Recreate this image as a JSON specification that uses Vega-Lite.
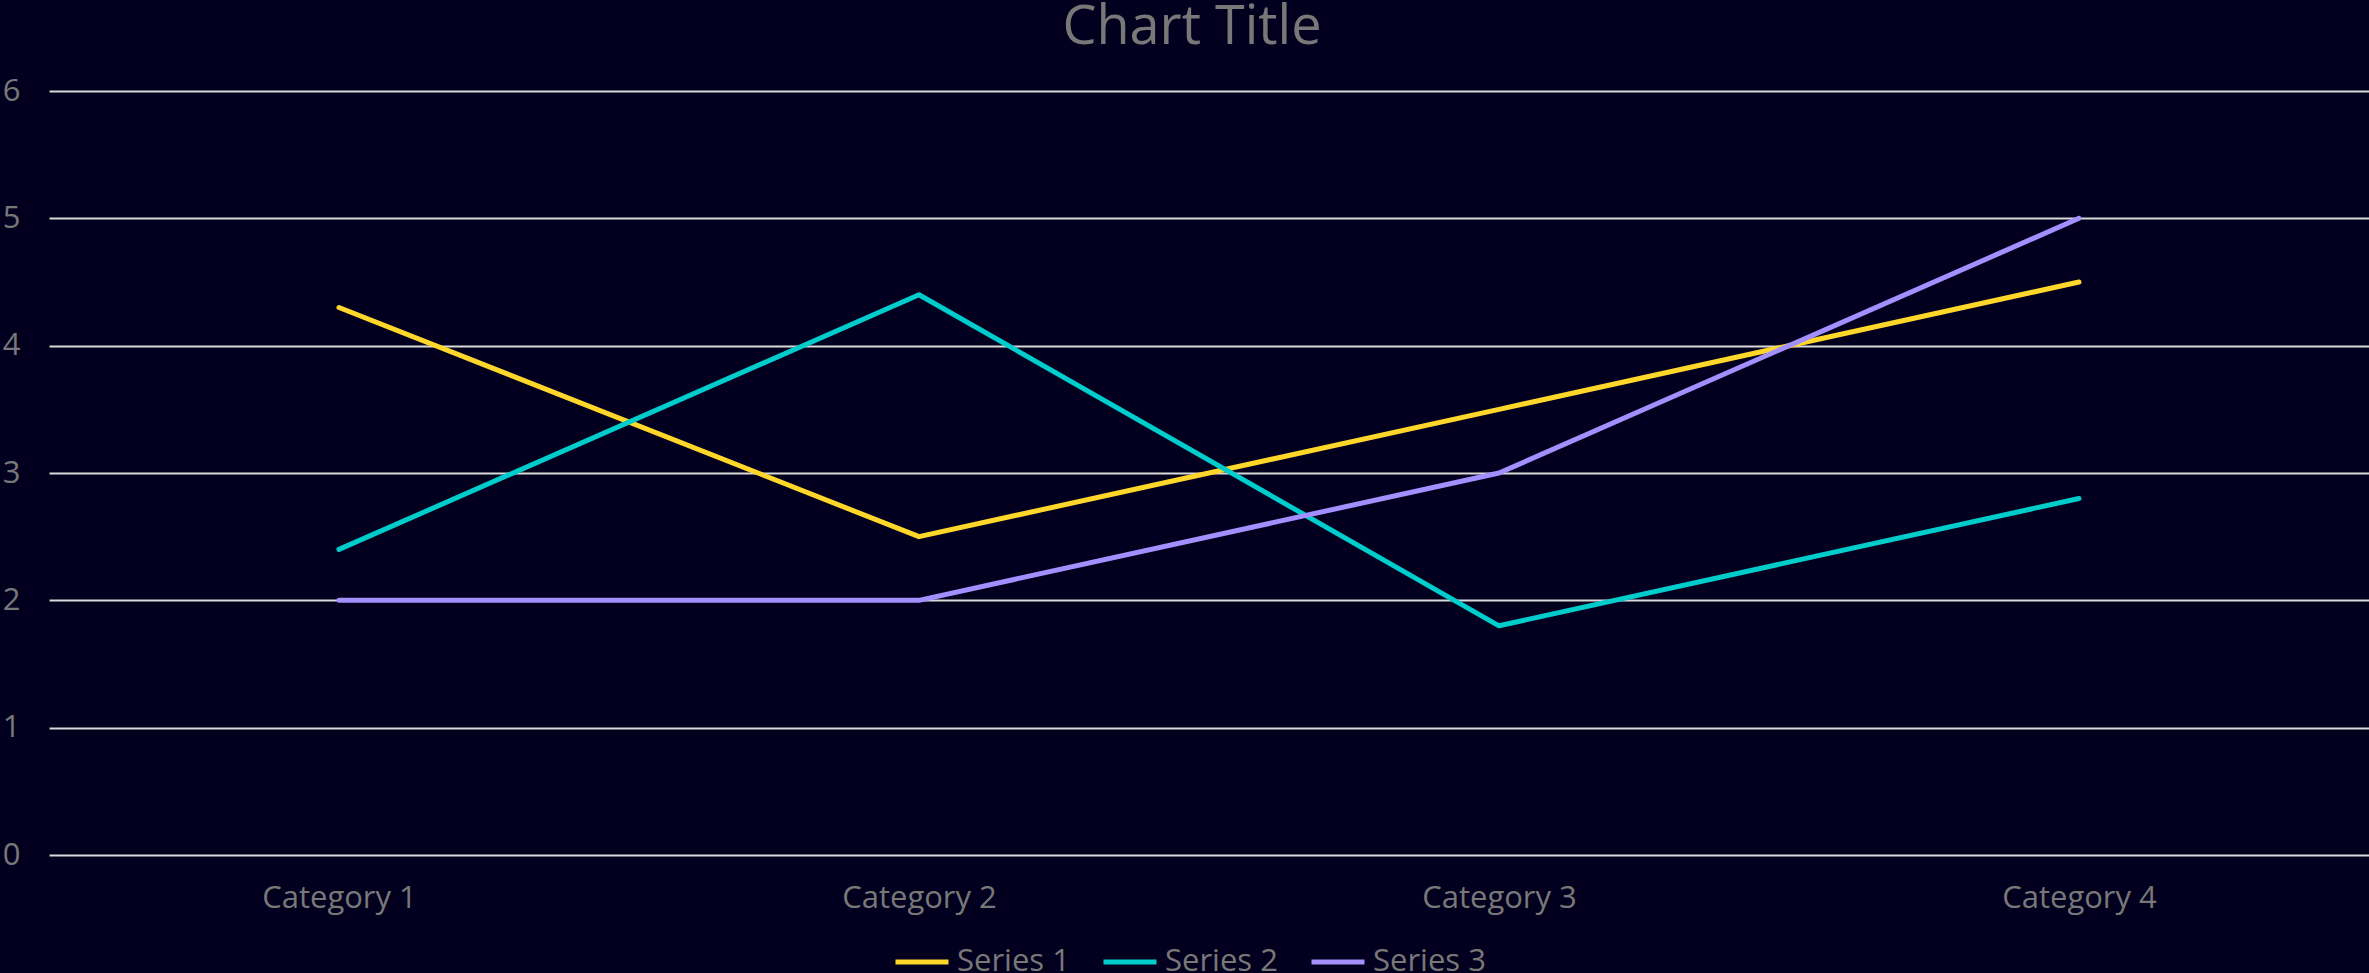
{
  "$schema": "https://vega.github.io/schema/vega-lite/v6.json",
  "autosize": "none",
  "width": 2320,
  "height": 764,
  "padding": {"left": 49, "top": 91, "right": 0, "bottom": 118},
  "background": "#03001F",
  "title": {
    "text": "Chart Title",
    "anchor": "middle",
    "dx": -17,
    "offset": 20,
    "font": "Open Sans",
    "fontSize": 54,
    "fontWeight": "normal",
    "color": "#787878"
  },
  "config": {
    "view": {"stroke": null},
    "font": "Open Sans"
  },
  "data": {
    "values": [
      {"category": "Category 1", "series": "Series 1", "value": 4.3},
      {"category": "Category 2", "series": "Series 1", "value": 2.5},
      {"category": "Category 3", "series": "Series 1", "value": 3.5},
      {"category": "Category 4", "series": "Series 1", "value": 4.5},
      {"category": "Category 1", "series": "Series 2", "value": 2.4},
      {"category": "Category 2", "series": "Series 2", "value": 4.4},
      {"category": "Category 3", "series": "Series 2", "value": 1.8},
      {"category": "Category 4", "series": "Series 2", "value": 2.8},
      {"category": "Category 1", "series": "Series 3", "value": 2},
      {"category": "Category 2", "series": "Series 3", "value": 2},
      {"category": "Category 3", "series": "Series 3", "value": 3},
      {"category": "Category 4", "series": "Series 3", "value": 5}
    ]
  },
  "mark": {"type": "line", "strokeWidth": 5, "strokeCap": "round", "strokeJoin": "round"},
  "encoding": {
    "x": {
      "field": "category",
      "type": "nominal",
      "scale": {"type": "point", "padding": 0.5},
      "axis": {
        "title": null,
        "labelAngle": 0,
        "grid": false,
        "ticks": false,
        "tickSize": 0,
        "domain": false,
        "labelPadding": 28,
        "labelFontSize": 31,
        "labelColor": "#787878",
        "labelFont": "Open Sans"
      }
    },
    "y": {
      "field": "value",
      "type": "quantitative",
      "scale": {"domain": [0, 6], "nice": false, "zero": true},
      "axis": {
        "title": null,
        "values": [0, 1, 2, 3, 4, 5, 6],
        "grid": true,
        "gridColor": "#D9D9D9",
        "gridWidth": 2,
        "ticks": false,
        "tickSize": 0,
        "domain": false,
        "labelPadding": 29,
        "labelFontSize": 31,
        "labelColor": "#787878",
        "labelFont": "Open Sans"
      }
    },
    "color": {
      "field": "series",
      "type": "nominal",
      "scale": {"domain": ["Series 1", "Series 2", "Series 3"], "range": ["#FFD72B", "#00CCCC", "#A38FFF"]},
      "legend": {
        "title": null,
        "orient": "none",
        "direction": "horizontal",
        "legendX": 844,
        "legendY": 842,
        "padding": 0,
        "symbolType": "stroke",
        "symbolSize": 2809,
        "symbolStrokeWidth": 5,
        "labelOffset": 6,
        "columnPadding": 23,
        "labelFontSize": 31,
        "labelColor": "#787878",
        "labelFont": "Open Sans"
      }
    }
  }
}
